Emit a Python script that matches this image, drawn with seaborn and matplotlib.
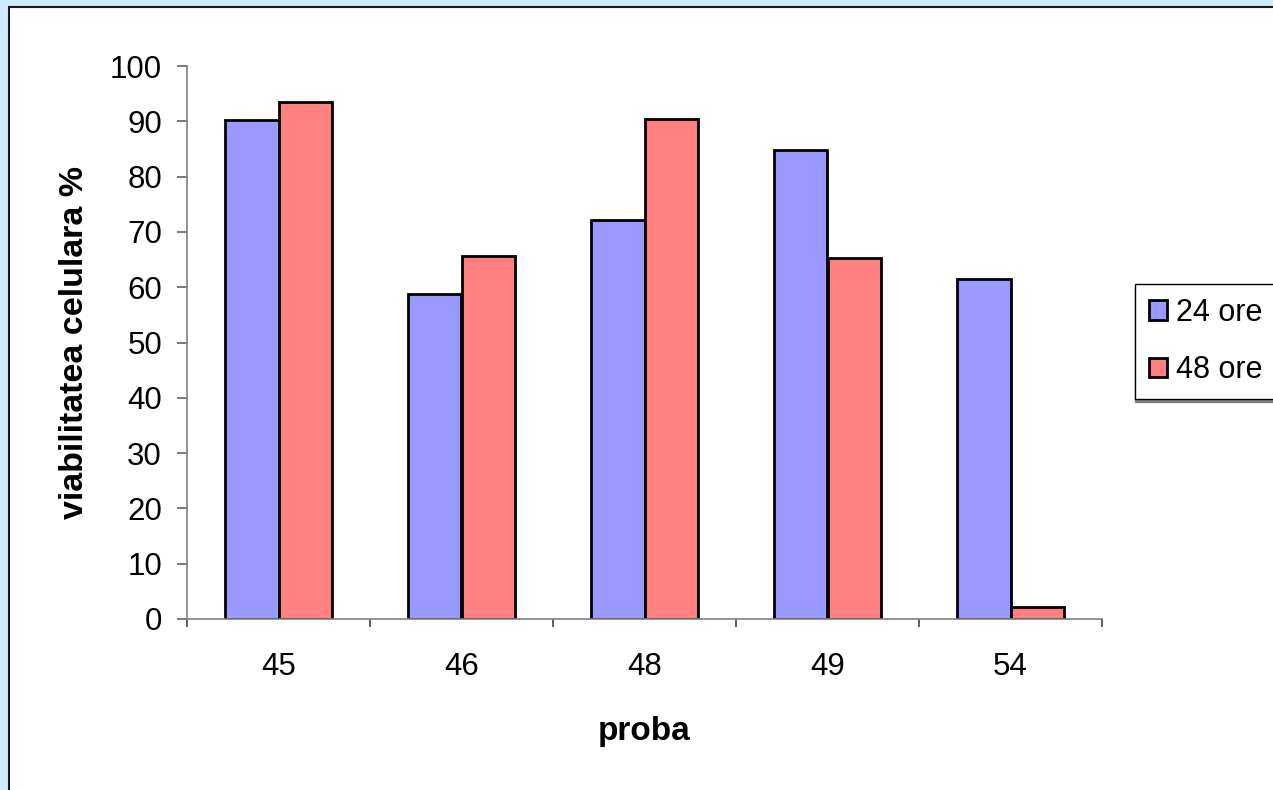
import matplotlib
matplotlib.use("Agg")
import matplotlib.pyplot as plt
from matplotlib.patches import Rectangle
import seaborn as sns
import pandas as pd

# Cell viability per sample after 24 h and 48 h
probe = ["45", "46", "48", "49", "54"]
ore_24 = [90.3, 58.8, 72.2, 84.9, 61.5]
ore_48 = [93.5, 65.7, 90.4, 65.2, 2.2]
serii = ["24 ore", "48 ore"]
culori = ["#9999FF", "#FF8080"]
y_ticks = list(range(0, 101, 10))

df = pd.DataFrame({
    "proba": probe * 2,
    "viabilitate": ore_24 + ore_48,
    "serie": [serii[0]] * len(probe) + [serii[1]] * len(probe),
})

sns.set_theme(style="white")
plt.rcParams["font.family"] = ["Liberation Sans", "DejaVu Sans"]
plt.rcParams["text.color"] = "black"
plt.rcParams["axes.labelcolor"] = "black"

W, H, DPI = 1273, 790, 100
fig = plt.figure(figsize=(W / DPI, H / DPI), dpi=DPI)
fig.patch.set_facecolor("#CCEBFF")

# white chart area with dark frame, running off the right and bottom edges
fig.patches.append(Rectangle((8.5 / W, -0.1), 1.2, 1 - 6.5 / H + 0.1,
                             transform=fig.transFigure, facecolor="white",
                             edgecolor="#1a1a1a", linewidth=1.5, zorder=-10))

ax = fig.add_axes([187 / W, 1 - 619 / H, (1102 - 187) / W, (619 - 66) / H])
ax.set_facecolor("none")
ax.set_zorder(1)

sns.barplot(data=df, x="proba", y="viabilitate", hue="serie",
            palette=culori, width=0.585, errorbar=None,
            edgecolor="black", linewidth=2.0, saturation=1, ax=ax)

ax.set_ylim(0, 100)
ax.set_xlim(-0.5, len(probe) - 0.5)
ax.set_yticks(y_ticks)
ax.set_yticklabels([str(t) for t in y_ticks])

# category boundaries carry the tick marks, labels sit at category centres
ax.set_xticks([i - 0.5 for i in range(len(probe) + 1)])
ax.set_xticklabels([])
ax.set_xticks(range(len(probe)), minor=True)
ax.set_xticklabels(probe, minor=True)
ax.tick_params(axis="x", which="major", direction="out", length=6,
               width=1.1, color="#333333", bottom=True)
ax.tick_params(axis="x", which="minor", length=0, pad=24, labelsize=22.5,
               labelcolor="black", bottom=True)
ax.tick_params(axis="y", direction="out", length=7, width=1.1,
               color="#555555", pad=11, labelsize=22.5, labelcolor="black",
               left=True)

for side in ["top", "right"]:
    ax.spines[side].set_visible(False)
for side in ["left", "bottom"]:
    ax.spines[side].set_color("#808080")
    ax.spines[side].set_linewidth(1.2)

ax.set_xlabel("proba", fontsize=24, fontweight="bold", labelpad=24)
ax.set_ylabel("viabilitatea celulara %", fontsize=24.5, fontweight="bold",
              labelpad=14)

handles, labels = ax.get_legend_handles_labels()
ax.legend_.remove()
leg = fig.legend(handles, labels, loc="upper left",
                 bbox_to_anchor=(1135 / W, 1 - 284 / H),
                 fontsize=22, frameon=True, fancybox=False,
                 shadow={"color": "#808080", "alpha": 1, "ox": 0, "oy": -2},
                 handlelength=0.6, handleheight=0.6, handletextpad=0.3,
                 labelspacing=0.9, borderpad=0.45, borderaxespad=0)
leg.get_frame().set_edgecolor("black")
leg.get_frame().set_linewidth(1.0)
for t in leg.get_texts():
    t.set_color("black")

fig.savefig("out.png", dpi=DPI, facecolor=fig.get_facecolor())
